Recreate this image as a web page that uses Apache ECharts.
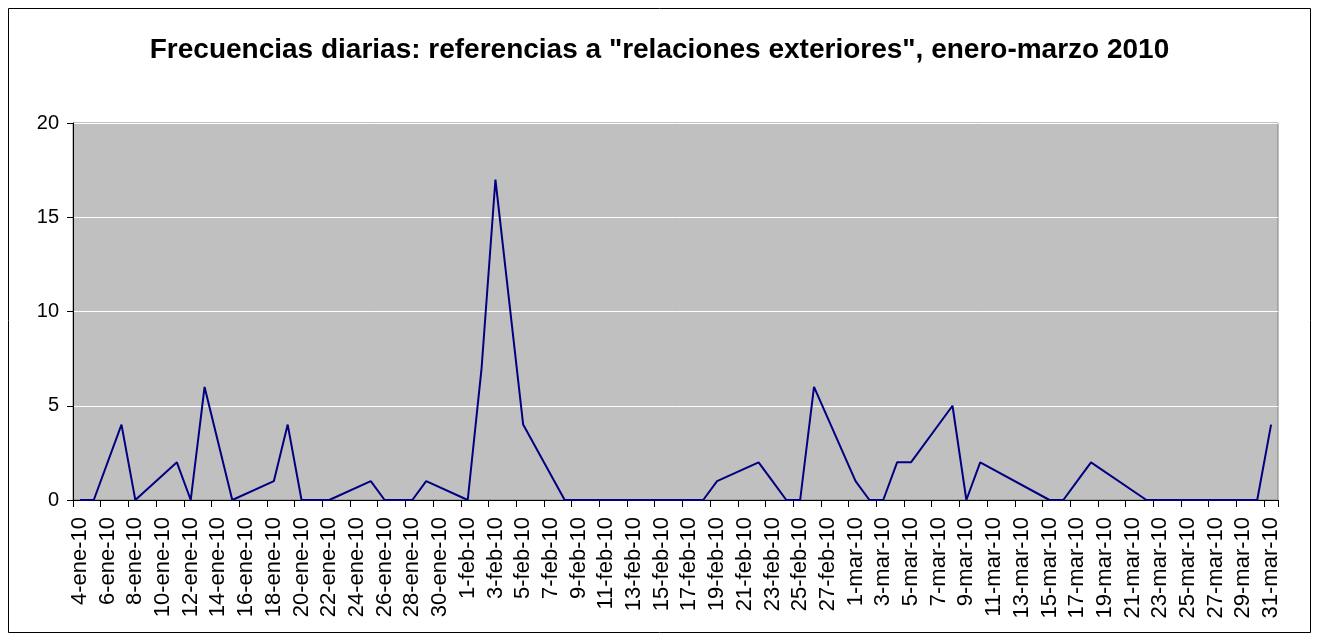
<!DOCTYPE html>
<html>
<head>
<meta charset="utf-8">
<script src="https://cdn.jsdelivr.net/npm/echarts@6/dist/echarts.min.js"></script>
<style>
html,body{margin:0;padding:0;background:#fff;}
#c{width:1319px;height:641px;}
</style>
</head>
<body>
<div id="c"></div>
<script>
const titleText = 'Frecuencias diarias: referencias a "relaciones exteriores", enero-marzo 2010';

const daysEne = ['4-ene-10','5-ene-10','6-ene-10','7-ene-10','8-ene-10','9-ene-10','10-ene-10','11-ene-10','12-ene-10','13-ene-10','14-ene-10','15-ene-10','16-ene-10','17-ene-10','18-ene-10','19-ene-10','20-ene-10','21-ene-10','22-ene-10','23-ene-10','24-ene-10','25-ene-10','26-ene-10','27-ene-10','28-ene-10','29-ene-10','30-ene-10','31-ene-10'];
const daysFeb = ['1-feb-10','2-feb-10','3-feb-10','4-feb-10','5-feb-10','6-feb-10','7-feb-10','8-feb-10','9-feb-10','10-feb-10','11-feb-10','12-feb-10','13-feb-10','14-feb-10','15-feb-10','16-feb-10','17-feb-10','18-feb-10','19-feb-10','20-feb-10','21-feb-10','22-feb-10','23-feb-10','24-feb-10','25-feb-10','26-feb-10','27-feb-10','28-feb-10'];
const daysMar = ['1-mar-10','2-mar-10','3-mar-10','4-mar-10','5-mar-10','6-mar-10','7-mar-10','8-mar-10','9-mar-10','10-mar-10','11-mar-10','12-mar-10','13-mar-10','14-mar-10','15-mar-10','16-mar-10','17-mar-10','18-mar-10','19-mar-10','20-mar-10','21-mar-10','22-mar-10','23-mar-10','24-mar-10','25-mar-10','26-mar-10','27-mar-10','28-mar-10','29-mar-10','30-mar-10','31-mar-10'];

// null = no data for that day (weekends / holidays); line connects across them
const valsEne = [0,0,null,4,0,null,null,2,0,6,3,0,null,null,1,4,0,0,0,null,null,1,0,0,0,1,null,null];
const valsFeb = [0,7,17,null,4,null,null,0,0,0,0,0,null,null,0,0,0,0,1,null,null,2,1,0,0,6,null,null];
const valsMar = [1,0,0,2,2,null,null,5,0,2,null,null,null,null,0,0,1,2,null,null,null,0,0,0,0,0,null,null,0,0,4];

const yTicks = [0,5,10,15,20];

const categories = daysEne.concat(daysFeb, daysMar);
const values = valsEne.concat(valsFeb, valsMar);

const chart = echarts.init(document.getElementById('c'), null, {renderer:'canvas'});
chart.setOption({
  animation: false,
  backgroundColor: '#ffffff',
  title: {
    text: titleText,
    left: 'center',
    top: 31,
    textStyle: {fontFamily: 'Liberation Sans, Arial, sans-serif', fontWeight: 'bold', fontSize: 28, color: '#000'}
  },
  graphic: [{
    type: 'rect',
    shape: {x: 8.5, y: 8.5, width: 1302, height: 624},
    style: {fill: 'none', stroke: '#000', lineWidth: 1},
    silent: true, z: -1
  }],
  grid: {
    left: 73, right: 41, top: 123, bottom: 141,
    show: true, backgroundColor: '#c0c0c0', borderColor: '#808080', borderWidth: 1
  },
  xAxis: {
    type: 'category',
    data: categories,
    boundaryGap: true,
    axisLine: {show: true, lineStyle: {color: '#000', width: 1}},
    axisTick: {show: true, interval: 1, length: 7, lineStyle: {color: '#000'}},
    axisLabel: {
      interval: 1, rotate: 90, margin: 17,
      fontFamily: 'Liberation Sans, Arial, sans-serif', fontSize: 22, color: '#000'
    },
    splitLine: {show: false}
  },
  yAxis: {
    type: 'value',
    min: yTicks[0], max: yTicks[yTicks.length-1], interval: 5,
    axisLine: {show: true, lineStyle: {color: '#000', width: 1}},
    axisTick: {show: true, length: 6, lineStyle: {color: '#000'}},
    axisLabel: {margin: 14, fontFamily: 'Liberation Sans, Arial, sans-serif', fontSize: 20, color: '#000'},
    splitLine: {show: true, lineStyle: {color: '#ffffff', width: 1}}
  },
  series: [{
    type: 'line',
    data: values,
    connectNulls: true,
    showSymbol: false,
    symbol: 'none',
    lineStyle: {color: '#000080', width: 2},
    itemStyle: {color: '#000080'}
  }]
});
</script>
</body>
</html>
